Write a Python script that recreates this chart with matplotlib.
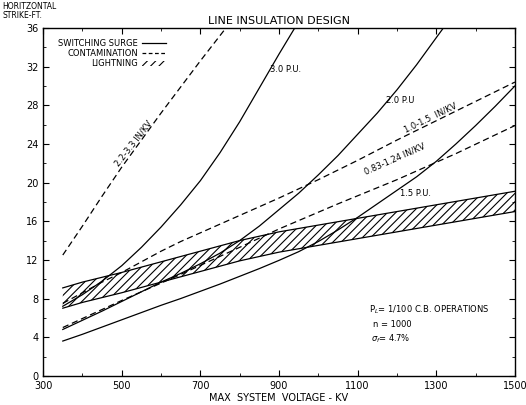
import numpy as np
import matplotlib
matplotlib.use('Agg')
import matplotlib.pyplot as plt
from matplotlib.lines import Line2D
from matplotlib.patches import Patch

# values (kV, strike distance in ft)
kv_30pu = [350, 400, 450, 500, 550, 600, 650, 700, 750, 800, 850, 900, 940]
ft_30pu = [7.2, 8.4, 9.8, 11.4, 13.3, 15.4, 17.7, 20.2, 23.1, 26.3, 29.8, 33.3, 36.0]

kv_20pu = [350, 400, 450, 500, 550, 600, 650, 700, 750, 800, 850, 900, 950,
           1000, 1050, 1100, 1150, 1200, 1250, 1300, 1318]
ft_20pu = [4.8, 5.75, 6.7, 7.7, 8.7, 9.7, 10.6, 11.6, 12.7, 14.0, 15.5, 17.2,
           18.9, 20.8, 22.8, 25.0, 27.2, 29.6, 32.2, 35.0, 36.0]

kv_15pu = [350, 400, 450, 500, 550, 600, 650, 700, 750, 800, 850, 900, 950,
           1000, 1050, 1100, 1150, 1200, 1250, 1300, 1350, 1400, 1450, 1500]
ft_15pu = [3.6, 4.3, 5.05, 5.8, 6.55, 7.3, 8.0, 8.75, 9.5, 10.3, 11.1, 11.95,
           12.85, 13.9, 15.1, 16.4, 17.8, 19.2, 20.6, 22.2, 24.0, 25.9, 27.9, 30.0]

kv_c33 = [350, 400, 450, 500, 550, 600, 650, 700, 765]
ft_c33 = [12.5, 15.5, 18.6, 21.6, 24.4, 27.2, 29.9, 32.6, 36.0]

kv_c15 = [350, 400, 450, 500, 550, 600, 650, 700, 800, 900, 1000, 1100,
          1200, 1300, 1400, 1500]
ft_c15 = [7.5, 8.6, 9.7, 10.7, 11.8, 12.9, 13.9, 14.8, 16.6, 18.4, 20.3, 22.3,
          24.4, 26.4, 28.4, 30.4]

kv_c124 = [350, 500, 650, 800, 900, 1050, 1200, 1350, 1500]
ft_c124 = [5.0, 7.8, 10.5, 13.3, 15.2, 17.8, 20.3, 23.0, 25.9]

kv_band = [350, 400, 450, 500, 600, 700, 800, 900, 1000, 1100, 1200, 1300, 1400, 1500]
ft_band_top = [9.1, 9.7, 10.2, 10.7, 11.8, 12.9, 14.0, 14.9, 15.6, 16.3, 17.0, 17.7, 18.4, 19.1]
ft_band_bot = [7.0, 7.6, 8.1, 8.6, 9.7, 10.8, 11.9, 12.8, 13.5, 14.2, 14.9, 15.6, 16.3, 17.0]

xticks = [300, 500, 700, 900, 1100, 1300, 1500]
yticks = [0, 4, 8, 12, 16, 20, 24, 28, 32, 36]

plt.rcParams['hatch.linewidth'] = 0.8
fig = plt.figure(figsize=(5.26, 4.05), dpi=100)
ax = fig.add_axes([0.082, 0.072, 0.897, 0.859])

# lightning band
ax.fill_between(kv_band, ft_band_bot, ft_band_top, facecolor='white',
                edgecolor='black', hatch='////', linewidth=0)
ax.plot(kv_band, ft_band_top, color='black', lw=0.9)
ax.plot(kv_band, ft_band_bot, color='black', lw=0.9)

# switching surge
for xs, ys in [(kv_30pu, ft_30pu), (kv_20pu, ft_20pu), (kv_15pu, ft_15pu)]:
    ax.plot(xs, ys, color='black', lw=0.9)

# contamination
for xs, ys in [(kv_c33, ft_c33), (kv_c15, ft_c15), (kv_c124, ft_c124)]:
    ax.plot(xs, ys, color='black', lw=0.9, dashes=(5, 3))

ax.set_xlim(300, 1500)
ax.set_ylim(0, 36)
ax.set_xticks(xticks)
ax.set_xticks(range(300, 1501, 100), minor=True)
ax.set_yticks(yticks)
ax.set_yticks(range(0, 37, 2), minor=True)
ax.tick_params(which='both', direction='in', top=True, right=True, labelsize=7)
ax.tick_params(which='major', length=4)
ax.tick_params(which='minor', length=2)
for s in ax.spines.values():
    s.set_linewidth(1.0)

ax.set_xlabel('MAX  SYSTEM  VOLTAGE - KV', fontsize=7, labelpad=2)
fig.text(0.005, 0.995, 'HORITZONTAL\nSTRIKE-FT.', fontsize=5.5, va='top',
         ha='left', linespacing=1.0)
ax.set_title('LINE INSULATION DESIGN', fontsize=8, pad=3)

# curve labels
ax.text(877, 31.4, '3.0 P.U.', fontsize=6)
ax.text(1172, 28.2, '2.0 P.U', fontsize=6)
ax.text(1208, 18.6, '1.5 P.U.', fontsize=6)
ax.text(1284, 26.7, '1.0-1.5  IN/KV', fontsize=6, rotation=26,
        ha='center', va='center')
ax.text(1195, 22.4, '0.83-1.24 IN/KV', fontsize=6, rotation=24,
        ha='center', va='center')
ax.text(530, 24.0, '2.2-3.3 IN/KV', fontsize=6, rotation=52,
        ha='center', va='center')

ax.text(1130, 6.6, r'P$_L$= 1/100 C.B. OPERATIONS', fontsize=6)
ax.text(1140, 5.1, 'n = 1000', fontsize=6)
ax.text(1135, 3.6, r'$\sigma_f$= 4.7%', fontsize=6)

handles = [Line2D([], [], color='black', lw=0.9),
           Line2D([], [], color='black', lw=0.9, dashes=(3, 2)),
           Patch(facecolor='white', edgecolor='black', hatch='////', lw=0)]
labels = ['SWITCHING SURGE', 'CONTAMINATION', 'LIGHTNING']
ax.legend(handles, labels, loc='upper left', bbox_to_anchor=(0.02, 0.985),
          frameon=False, fontsize=6, markerfirst=False, handlelength=2.8,
          handleheight=0.6, labelspacing=0.15, borderpad=0.2,
          handletextpad=0.5)

fig.savefig('out.png', dpi=100)
